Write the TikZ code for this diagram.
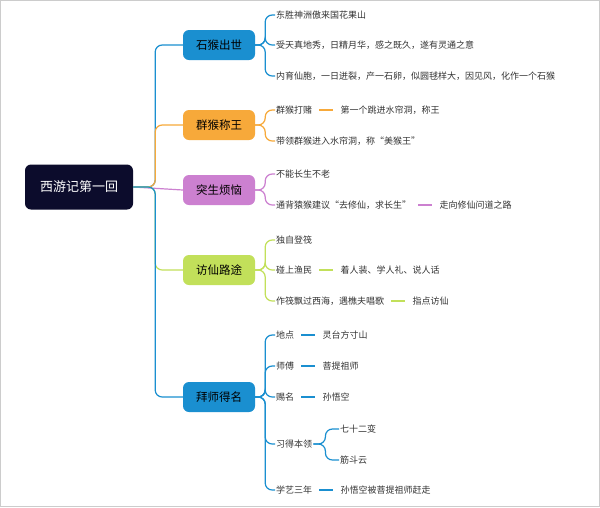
\documentclass[tikz,border=0pt]{standalone}
\usepackage{fontspec}
\setmainfont{Noto Sans CJK SC}
\usetikzlibrary{positioning,calc}
\definecolor{cA}{HTML}{1A8FD0}
\definecolor{cB}{HTML}{F7A93A}
\definecolor{cC}{HTML}{CC80D0}
\definecolor{cD}{HTML}{C2E05A}
\definecolor{cRoot}{HTML}{0C0C2C}
\tikzset{
  br/.style={rounded corners=6pt,minimum width=72pt,minimum height=30pt,inner sep=0pt,font=\fontsize{11.5}{13}\selectfont},
  lf/.style={anchor=west,inner sep=1pt,font=\fontsize{9}{10}\selectfont,text=black!80},
  ln/.style={line width=1.2pt,rounded corners=7pt},
  sub/.style={lf,right=26pt of #1},
}
\begin{document}
\begin{tikzpicture}[x=1pt,y=-1pt]
\useasboundingbox (0,0) rectangle (600,507);
\draw[black!20,fill=white] (0.5,0.5) rectangle (599.5,506.5);
\node[rounded corners=6pt,fill=cRoot,text=white,minimum width=108pt,minimum height=45pt,font=\fontsize{13}{15}\selectfont] (R) at (79,187) {西游记第一回};
% branches
\node[br,fill=cA] (A) at (219,45) {石猴出世};
\node[br,fill=cB] (B) at (219,125) {群猴称王};
\node[br,fill=cC] (C) at (219,190) {突生烦恼};
\node[br,fill=cD] (D) at (219,270) {访仙路途};
\node[br,fill=cA] (E) at (219,397) {拜师得名};
\draw[ln,cA] (R.east) -- ++(22,0) |- (A.west);
\draw[ln,cB] (R.east) -- ++(22,0) |- (B.west);
\draw[ln,cC] (R.east) -- (C.west);
\draw[ln,cD] (R.east) -- ++(22,0) |- (D.west);
\draw[ln,cA] (R.east) -- ++(22,0) |- (E.west);
% leaves
\node[lf] (A1) at (275,15) {东胜神洲傲来国花果山};
\node[lf] (A2) at (275,45) {受天真地秀，日精月华，感之既久，遂有灵通之意};
\node[lf] (A3) at (275,76) {内育仙胞，一日迸裂，产一石卵，似圆毬样大，因见风，化作一个石猴};
\foreach \n in {A1,A2,A3} \draw[ln,cA] (A.east) -- ++(10,0) |- (\n.west);
\node[lf] (B1) at (275,110) {群猴打赌};
\node[sub=B1] (B1a) {第一个跳进水帘洞，称王};
\node[lf] (B2) at (275,141) {带领群猴进入水帘洞，称“美猴王”};
\foreach \n in {B1,B2} \draw[ln,cB] (B.east) -- ++(10,0) |- (\n.west);
\node[lf] (C1) at (275,174) {不能长生不老};
\node[lf] (C2) at (275,205) {通背猿猴建议“去修仙，求长生”};
\node[sub=C2] (C2a) {走向修仙问道之路};
\foreach \n in {C1,C2} \draw[ln,cC] (C.east) -- ++(10,0) |- (\n.west);
\node[lf] (D1) at (275,240) {独自登筏};
\node[lf] (D2) at (275,270) {碰上渔民};
\node[sub=D2] (D2a) {着人装、学人礼、说人话};
\node[lf] (D3) at (275,301) {作筏飘过西海，遇樵夫唱歌};
\node[sub=D3] (D3a) {指点访仙};
\foreach \n in {D1,D2,D3} \draw[ln,cD] (D.east) -- ++(10,0) |- (\n.west);
\node[lf] (E1) at (275,335) {地点};
\node[sub=E1] (E1a) {灵台方寸山};
\node[lf] (E2) at (275,366) {师傅};
\node[sub=E2] (E2a) {菩提祖师};
\node[lf] (E3) at (275,397) {赐名};
\node[sub=E3] (E3a) {孙悟空};
\node[lf] (E4) at (275,444) {习得本领};
\node[lf] (E4a) at (339,429) {七十二变};
\node[lf] (E4b) at (339,460) {筋斗云};
\node[lf] (E5) at (275,490) {学艺三年};
\node[sub=E5] (E5a) {孙悟空被菩提祖师赶走};
\foreach \n in {E1,E2,E3,E4,E5} \draw[ln,cA] (E.east) -- ++(10,0) |- (\n.west);
\foreach \n in {E4a,E4b} \draw[ln,cA] (E4.east) -- ++(12,0) |- (\n.west);
% short links
\draw[ln,cB,shorten <=6pt,shorten >=6pt] (B1) -- (B1a);
\draw[ln,cC,shorten <=6pt,shorten >=6pt] (C2) -- (C2a);
\foreach \n in {D2,D3} \draw[ln,cD,shorten <=6pt,shorten >=6pt] (\n) -- (\n a);
\foreach \n in {E1,E2,E3,E5} \draw[ln,cA,shorten <=6pt,shorten >=6pt] (\n) -- (\n a);
\end{tikzpicture}
\end{document}
